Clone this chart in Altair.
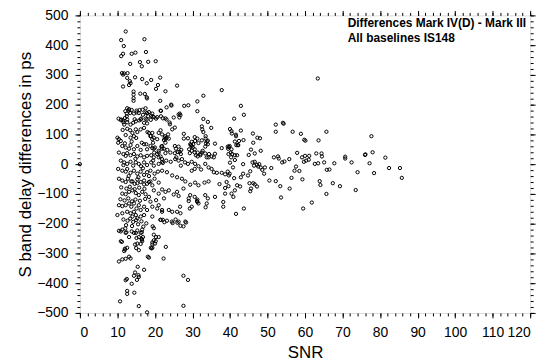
import altair as alt
import pandas as pd

# (SNR, S band delay difference in ps)
upper_pts = [
    (12.2, 446), (11.0, 417), (17.2, 420), (11.7, 397), (11.5, 371), (11.0, 363), (13.8, 371),
    (14.8, 375), (17.6, 377), (13.4, 337), (16.0, 343), (16.5, 329), (18.2, 344), (20.2, 346),
    (11.2, 306), (11.8, 305), (12.7, 306), (11.5, 301), (12.6, 290), (14.7, 292), (16.6, 286),
    (19.0, 283), (21.4, 291), (13.3, 279), (13.5, 272), (13.1, 266), (11.5, 261), (17.8, 272),
    (20.8, 266), (20.3, 253), (25.9, 264), (14.3, 244), (14.3, 234), (14.3, 222), (14.3, 213),
    (16.1, 237), (17.3, 236), (17.8, 225), (17.9, 221), (21.4, 213), (22.8, 245), (24.3, 200),
    (23.1, 191), (27.8, 196), (28.9, 198), (31.3, 211), (31.3, 178), (12.6, 188), (13.1, 180),
    (12.5, 170), (15.7, 172), (16.8, 166), (17.9, 172), (21.5, 180), (11.0, 150), (11.5, 147),
    (37.8, 249), (32.9, 230), (13.4, 172), (12.5, 161), (12.0, 155), (10.3, 153), (14.4, 170),
    (15.1, 174), (17.5, 174), (18.2, 161), (19.0, 163), (19.7, 158), (20.6, 158), (21.6, 161),
    (16.3, 153), (17.5, 153), (19.4, 160), (22.1, 154), (22.8, 154), (25.0, 157), (26.8, 165),
    (26.5, 157), (32.9, 152), (34.1, 142), (41.1, 153), (24.4, 197), (21.6, 179), (12.6, 150),
    (14.6, 151), (15.8, 147), (17.8, 150), (18.9, 149), (20.3, 153), (23.1, 150), (13.1, 185),
    (12.1, 178), (13.8, 182), (15.1, 180), (15.9, 182), (16.7, 183), (17.5, 188), (18.4, 175),
    (19.3, 170), (26.6, 170), (26.3, 167), (42.9, 196), (43.7, 166), (63.4, 288),
]

mid_pts = [
    (23.9, 140), (24.6, 117), (25.3, 123), (32.5, 127), (32.6, 117), (32.9, 108), (35.0, 122),
    (19.3, 105), (18.9, 95), (19.7, 89), (19.3, 84), (23.5, 100), (22.6, 89), (22.8, 84),
    (27.7, 102), (28.8, 87), (30.6, 91), (31.3, 86), (30.7, 78), (31.6, 71), (33.5, 94),
    (34.1, 79), (33.6, 70), (40.0, 118), (40.5, 103), (41.6, 94), (36.0, 69), (17.7, 67),
    (19.3, 54), (20.0, 56), (21.9, 52), (21.0, 45), (19.8, 39), (25.6, 52), (26.6, 42),
    (26.9, 34), (25.7, 23), (29.4, 67), (29.8, 61), (30.1, 56), (30.6, 50), (31.4, 39),
    (32.1, 30), (32.7, 45), (33.4, 36), (33.8, 23), (34.3, 23), (35.7, 23), (36.0, 35),
    (37.8, 54), (39.5, 52), (40.2, 39), (40.6, 34), (41.3, 30), (24.0, 134), (21.5, 114),
    (21.0, 105), (22.7, 94), (23.1, 88), (22.4, 81), (22.8, 72), (23.7, 86), (27.7, 86),
    (29.8, 75), (30.2, 67), (29.6, 64), (32.5, 80), (33.5, 86), (33.8, 77), (34.1, 67),
    (33.4, 59), (39.4, 59), (39.9, 61), (40.4, 50), (41.7, 64), (42.2, 64), (39.6, 34),
    (41.9, 30), (25.3, 61), (26.3, 59), (27.0, 48), (26.1, 41), (25.3, 37), (21.7, 59),
    (22.4, 52), (23.3, 48), (21.0, 39), (22.8, 37), (24.1, 39), (29.1, 50), (29.8, 45),
    (29.3, 37), (30.6, 39), (30.9, 30), (31.4, 26), (32.1, 34), (32.5, 39), (34.4, 34),
    (35.1, 26), (21.0, 23), (21.9, 17), (23.0, 12), (24.2, 8), (22.1, 4), (25.4, 17),
    (26.3, 12), (27.2, 17), (28.0, 6), (28.8, 1), (26.9, -5), (29.8, 8), (30.7, 1),
    (31.6, -7), (30.6, -16), (29.8, -22), (32.3, -18), (33.4, 1), (34.3, -11), (35.1, -16),
    (35.7, -27), (36.5, -29), (37.8, -29), (38.7, -34), (39.7, -38), (39.4, -25), (37.2, -67),
    (39.1, -60), (39.6, -74), (38.7, -80), (21.9, -22), (23.2, -27), (24.6, -38), (25.9, -44),
    (27.2, -49), (28.1, -58), (29.4, -69), (30.7, -62), (31.6, -71), (33.2, -62), (34.3, -58),
    (21.9, -85), (22.8, -93), (23.7, -88), (25.0, -102), (25.9, -93), (26.3, -107), (27.6, -82),
    (29.4, -104), (30.6, -110), (31.2, -124), (31.6, -132), (29.8, -143), (29.0, -124),
    (33.4, -104), (34.1, -115), (33.8, -132), (36.0, -110), (38.2, -127), (38.2, -143),
    (41.9, -71), (40.4, -99), (21.0, -138), (21.9, -154), (23.7, -154), (24.6, -160),
    (25.9, -160), (26.8, -165), (28.1, -193), (26.3, -193), (22.1, -187), (24.7, -198),
    (27.6, -209), (28.3, -196), (26.8, -207), (26.7, -143), (29.0, -115), (31.3, -119),
    (31.3, -127), (33.5, -145), (29.3, -149), (38.7, -99), (21.5, -187), (22.5, -195),
    (23.2, -190), (24.5, -193), (25.5, -186), (26.0, -197),
]

far_pts = [
    (52.2, 133), (54.1, 139), (54.3, 136), (40.4, 111), (41.6, 99), (42.9, 113), (46.1, 103),
    (52.2, 109), (56.7, 109), (58.9, 102), (65.7, 109), (47.3, 89), (48.0, 87), (42.4, 78),
    (43.6, 81), (41.3, 76), (46.2, 72), (59.8, 82), (60.1, 79), (63.6, 80), (42.1, 64),
    (39.7, 58), (48.2, 45), (45.6, 49), (46.6, 36), (57.9, 38), (40.3, 23), (41.3, 14),
    (45.0, 31), (51.7, 23), (52.8, 26), (53.0, 19), (55.8, 17), (59.2, 23), (60.0, 28),
    (61.1, 28), (61.0, 15), (60.3, 12), (59.7, 8), (63.0, 36), (64.4, 36), (64.5, 26),
    (70.7, 25), (70.7, 19), (72.4, 6), (76.0, 31), (40.0, 5), (43.5, 0), (46.0, 6),
    (46.6, 8), (46.4, -5), (47.2, -2), (47.5, -8), (47.8, 0), (48.2, -11), (48.6, -19),
    (49.3, -11), (49.1, -32), (51.0, -13), (53.9, 6), (54.5, 9), (57.6, -8), (57.2, -22),
    (58.5, -23), (62.6, 1), (63.5, 3), (65.1, 6), (67.8, 3), (65.8, -19), (66.5, -18),
    (74.0, -27), (40.8, -11), (39.9, -32), (41.1, -47), (43.5, -32), (42.9, -44), (45.4, -24),
    (44.8, -38), (50.5, -55), (52.2, -57), (56.4, -46), (59.3, -51), (63.9, -57), (64.1, -70),
    (67.4, -64), (69.3, -74), (73.5, -87), (65.7, -100), (45.2, -64), (46.2, -64), (46.6, -68),
    (47.2, -75), (45.6, -82), (45.4, -91), (42.7, -75), (53.4, -74), (55.9, -82), (41.3, -88),
    (40.9, -110), (53.6, -112), (59.5, -149), (61.8, -129), (43.7, -149), (41.6, -167),
    (77.7, 94), (76.1, 33), (78.0, 40), (81.4, 22), (77.2, 3), (82.4, -13), (85.3, -13),
    (78.4, -30), (85.8, -46),
]

dense_pts = [
    (12.6, 141), (13.5, 133), (14.2, 139), (14.9, 144), (16.2, 150), (17.1, 139), (17.9, 137),
    (10.9, 148), (11.6, 141), (11.8, 133), (12.6, 119), (13.4, 114), (14.0, 105), (14.9, 117),
    (15.3, 108), (16.2, 117), (17.1, 122), (14.4, 94), (13.5, 89), (10.0, 89), (10.4, 84),
    (10.9, 78), (10.2, 72), (18.4, 105), (18.8, 94), (20.6, 84), (19.5, 72), (21.9, 100),
    (11.3, 61), (12.2, 56), (13.1, 52), (13.5, 64), (14.4, 50), (15.3, 61), (16.2, 48),
    (17.1, 67), (17.9, 50), (18.8, 61), (19.7, 52), (21.9, 61), (10.4, 39), (11.6, 34),
    (12.2, 28), (12.6, 37), (13.5, 30), (14.4, 34), (15.3, 26), (16.2, 30), (17.1, 23),
    (17.9, 28), (19.0, 30), (19.7, 23), (20.6, 34), (21.5, 26), (10.9, 12), (11.8, 6),
    (12.6, 1), (13.5, 8), (14.2, -5), (14.9, 6), (15.7, 1), (16.3, -7), (17.1, 6), (17.9, -3),
    (19.0, 6), (19.7, -5), (21.0, 1), (21.9, 8), (10.2, -16), (11.3, -22), (12.2, -25),
    (12.6, -16), (13.5, -29), (14.4, -22), (15.3, -32), (16.2, -25), (17.1, -36), (17.9, -27),
    (18.8, -22), (19.9, -32), (20.8, -25), (10.4, -49), (11.3, -55), (12.2, -60), (12.8, -49),
    (13.7, -58), (14.6, -66), (15.3, -51), (16.2, -60), (17.1, -55), (17.9, -66), (18.8, -58),
    (19.9, -49), (21.0, -62), (14.0, -58), (15.3, -64), (17.1, -68), (18.4, -60), (19.3, -71),
    (11.3, -99), (12.2, -101), (13.1, -93), (14.0, -88), (14.9, -97), (15.7, -104), (16.6, -93),
    (17.5, -101), (18.4, -110), (19.7, -88), (21.0, -99), (22.4, -115), (10.4, -138),
    (11.3, -141), (12.2, -138), (13.1, -132), (13.7, -143), (14.4, -132), (15.1, -149),
    (15.7, -138), (16.2, -154), (17.1, -143), (17.9, -154), (19.3, -143), (20.6, -149),
    (21.9, -160), (10.0, -171), (11.3, -165), (12.6, -160), (13.5, -165), (14.0, -176),
    (14.4, -160), (14.9, -171), (15.3, -182), (16.2, -176), (17.1, -171), (19.3, -176),
    (21.5, -187), (11.0, -78), (12.4, -82), (13.3, -76), (14.6, -84), (15.8, -79), (17.2, -83),
    (10.8, -118), (11.9, -122), (12.9, -115), (13.9, -125), (14.8, -119), (16.0, -123),
    (17.4, -117), (18.8, -126), (20.3, -121), (11.6, -186), (12.7, -190), (13.4, -183),
    (14.2, -194), (15.0, -188), (16.4, -192), (17.7, -199), (11.4, 115), (12.2, 98),
    (13.8, 76), (15.0, 88), (16.5, 72), (18.0, 108), (12.0, 70), (14.8, 18), (16.8, -14),
    (13.0, -40), (15.6, -44), (18.4, -40), (11.6, -3), (19.5, 12), (0.0, 0),
]

lower_pts = [
    (27.6, -375), (28.8, -389), (27.6, -476), (17.9, -498), (15.7, -477), (10.7, -461),
    (13.8, -402), (14.5, -432), (12.6, -426), (12.6, -436), (12.2, -390), (15.2, -389),
    (15.7, -379), (12.5, -386), (14.7, -364), (14.4, -375), (15.6, -373), (15.4, -345),
    (17.1, -355), (18.4, -314), (10.4, -327), (11.3, -320), (12.2, -318), (13.1, -311),
    (13.5, -317), (11.8, -292), (12.0, -287), (11.2, -261), (14.7, -270), (16.2, -268),
    (15.0, -282), (15.7, -289), (16.5, -251), (16.8, -245), (18.9, -281), (19.3, -270),
    (20.2, -259), (20.3, -245), (13.1, -245), (12.4, -229), (12.1, -216), (11.3, -220),
    (10.4, -224), (13.8, -226), (14.9, -231), (15.3, -223), (16.6, -220), (19.7, -215),
    (19.4, -209), (16.5, -229), (15.7, -245), (16.5, -254), (21.0, -245), (19.7, -256),
    (20.0, -267), (19.1, -283), (22.9, -278), (22.3, -317), (10.9, -226), (12.2, -231),
    (14.4, -231), (15.1, -248), (16.2, -231), (15.3, -267), (16.6, -259), (19.7, -237),
    (19.3, -263), (10.9, -259), (12.0, -284), (12.6, -281), (18.1, -311), (19.3, -281),
    (12.3, -205), (13.9, -208), (15.5, -202), (16.9, -210),
]

x_major = list(range(0, 121, 10))
x_minor = list(range(0, 121, 2))
y_major = list(range(-500, 501, 100))
y_minor = list(range(-500, 501, 20))

note_lines = ["Differences Mark IV(D) - Mark III", "All baselines IS148"]

pts = upper_pts + mid_pts + far_pts + dense_pts + lower_pts
df = pd.DataFrame(pts, columns=["snr", "diff"])

FONT = "Liberation Sans"
xs = alt.Scale(domain=[0, 120], nice=False, zero=False)
ys = alt.Scale(domain=[-500, 500], nice=False, zero=False)


def axis(orient, values, tick, **kw):
    return alt.Axis(orient=orient, values=values, tickSize=tick, tickColor="black",
                    tickWidth=1, domain=False, grid=False, **kw)


points = alt.Chart(df).mark_point(
    shape="circle", filled=False, color="black", size=11, strokeWidth=1, opacity=1
).encode(
    x=alt.X("snr:Q", scale=xs, axis=axis(
        "bottom", x_major, 5, title="SNR", labelFont=FONT, labelFontSize=14,
        labelColor="black", labelPadding=8, titleFont=FONT, titleFontSize=17,
        titleFontWeight="normal", titleColor="black", titleX=227, titleY=45,
        titleBaseline="alphabetic")),
    y=alt.Y("diff:Q", scale=ys, axis=axis(
        "left", y_major, 5, title="S band delay differences in ps", labelFont=FONT,
        labelFontSize=14, labelColor="black", labelPadding=7, titleFont=FONT,
        titleFontSize=17, titleFontWeight="normal", titleColor="black",
        titleX=-50, titleY=150, titleBaseline="alphabetic")),
)


def tick_layer(xo, yo, xv, yv, size):
    return alt.Chart(df).mark_point(opacity=0).encode(
        x=alt.X("snr:Q", scale=xs, axis=axis(xo, xv, size, labels=False, title=None)),
        y=alt.Y("diff:Q", scale=ys, axis=axis(yo, yv, size, labels=False, title=None)),
    )


minor_bl = tick_layer("bottom", "left", x_minor, y_minor, 3)
major_tr = tick_layer("top", "right", x_major, y_major, 5)
minor_tr = tick_layer("top", "right", x_minor, y_minor, 3)


def note(line, ypix):
    return alt.Chart(pd.DataFrame({"t": [line]})).mark_text(
        align="left", baseline="alphabetic", font=FONT, fontSize=12, fontWeight="bold",
        color="black").encode(x=alt.value(270), y=alt.value(ypix), text="t:N")


note1 = note(note_lines[0], 11.5)
note2 = note(note_lines[1], 26.5)

chart = alt.layer(minor_bl, major_tr, minor_tr, points, note1, note2).resolve_scale(
    x="independent", y="independent"
).properties(
    width=454, height=300,
    autosize=alt.AutoSizeParams(type="none"),
    padding={"left": 72.5, "top": 6, "right": 20, "bottom": 48},
).configure_view(stroke="black", strokeWidth=1).configure(background="white")

chart.save("out.html", embed_options={"renderer": "svg", "actions": False})
